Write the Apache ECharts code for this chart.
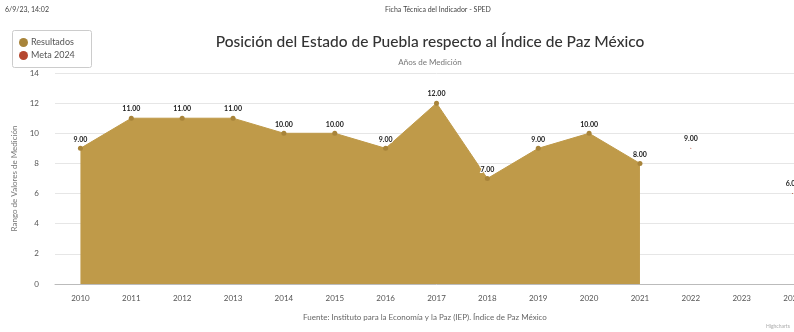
<!DOCTYPE html>
<html>
<head>
<meta charset="utf-8">
<script src="https://cdn.jsdelivr.net/npm/echarts@6/dist/echarts.min.js"></script>
<style>html,body{margin:0;padding:0;background:#fff;overflow:hidden;width:794px;height:332px;}#c{width:818px;height:332px;}</style>
</head>
<body>
<div id="c"></div>
<script>
var categories = ['2010','2011','2012','2013','2014','2015','2016','2017','2018','2019','2020','2021','2022','2023','2024'];
var resultados = [9, 11, 11, 11, 10, 10, 9, 12, 7, 9, 10, 8, null, null, null];
var meta2024 = [null, null, null, null, null, null, null, null, null, null, null, null, 9, null, 6];
var yTicks = [0, 2, 4, 6, 8, 10, 12, 14];

var chart = echarts.init(document.getElementById('c'), null, {renderer: 'canvas'});
var font = 'Lato, "Open Sans", sans-serif';
chart.setOption({
  animation: false,
  backgroundColor: '#fff',
  title: [{
    text: 'Posición del Estado de Puebla respecto al Índice de Paz México',
    left: 425, top: 29, textAlign: 'center',
    textStyle: {fontSize: 15.5, fontWeight: 500, color: '#333', fontFamily: font}
  }, {
    text: 'Años de Medición',
    left: 425, top: 53, textAlign: 'center',
    textStyle: {fontSize: 8, fontWeight: 'normal', color: '#777', fontFamily: font}
  }],
  graphic: [
    {type: 'text', x: 5, y: 6, style: {text: '6/9/23, 14:02', fontSize: 7, fill: '#444', fontFamily: font}},
    {type: 'text', x: 385, y: 6, style: {text: 'Ficha Técnica del Indicador - SPED', fontSize: 7, fill: '#444', fontFamily: font}},
    {type: 'rect', shape: {x: 12.5, y: 30.5, width: 79, height: 37, r: 2}, style: {fill: '#fff', stroke: '#ccc', lineWidth: 1}, z: 1},
    {type: 'text', x: 425, y: 313, style: {text: 'Fuente: Instituto para la Economía y la Paz (IEP). Índice de Paz México', fontSize: 8, fill: '#666', fontFamily: font, align: 'center', textAlign: 'center'}, z: 5},
    {type: 'text', x: 766, y: 324, style: {text: 'Highcharts', fontSize: 5, fill: '#aaa', fontFamily: font}, z: 10}
  ],
  legend: {
    left: 14, top: 33, orient: 'vertical', itemGap: 4,
    itemWidth: 9, itemHeight: 9, icon: 'circle', z: 3,
    textStyle: {fontSize: 9, color: '#555', fontFamily: font, padding: [0, 0, 0, -2]},
    data: ['Resultados', 'Meta 2024']
  },
  grid: {left: 55, right: 0, top: 73, bottom: 48, containLabel: false},
  xAxis: {
    type: 'category', data: categories, boundaryGap: true,
    axisLine: {lineStyle: {color: '#bbb', width: 1}},
    axisTick: {show: false},
    axisLabel: {fontSize: 8, color: '#555', fontFamily: font, margin: 10}
  },
  yAxis: {
    type: 'value', min: 0, max: 14, interval: 2,
    name: 'Rango de Valores de Medición', nameLocation: 'middle', nameGap: 27,
    nameTextStyle: {fontSize: 8, color: '#777', fontFamily: font},
    axisLine: {show: false}, axisTick: {show: false},
    axisLabel: {fontSize: 8, color: '#555', fontFamily: font, margin: 16,
      formatter: function (v) { return yTicks.indexOf(v) >= 0 ? String(v) : ''; }},
    splitLine: {lineStyle: {color: '#e6e6e6', width: 1}}
  },
  series: [{
    name: 'Resultados', type: 'line', data: resultados,
    color: '#bf9a49',
    symbol: 'circle', symbolSize: 5,
    itemStyle: {color: '#a8843a'},
    lineStyle: {color: '#bf9a49', width: 1},
    areaStyle: {color: '#bf9a49', opacity: 1},
    label: {show: true, position: 'top', distance: 3, fontSize: 7, fontWeight: 'bold', color: '#222',
      textBorderColor: '#fff', textBorderWidth: 2, fontFamily: font,
      formatter: function (p) { return p.value.toFixed(2); }}
  }, {
    name: 'Meta 2024', type: 'line', data: meta2024,
    color: '#b5472f',
    connectNulls: false, clip: false,
    symbol: 'circle', symbolSize: 1,
    itemStyle: {color: '#b5472f'},
    lineStyle: {width: 0},
    labelLayout: {hideOverlap: false},
    label: {show: true, position: 'top', distance: 6, fontSize: 7, fontWeight: 'bold', color: '#222',
      textBorderColor: '#fff', textBorderWidth: 2, fontFamily: font,
      formatter: function (p) { return p.value.toFixed(2); }}
  }]
});
</script>
</body>
</html>
